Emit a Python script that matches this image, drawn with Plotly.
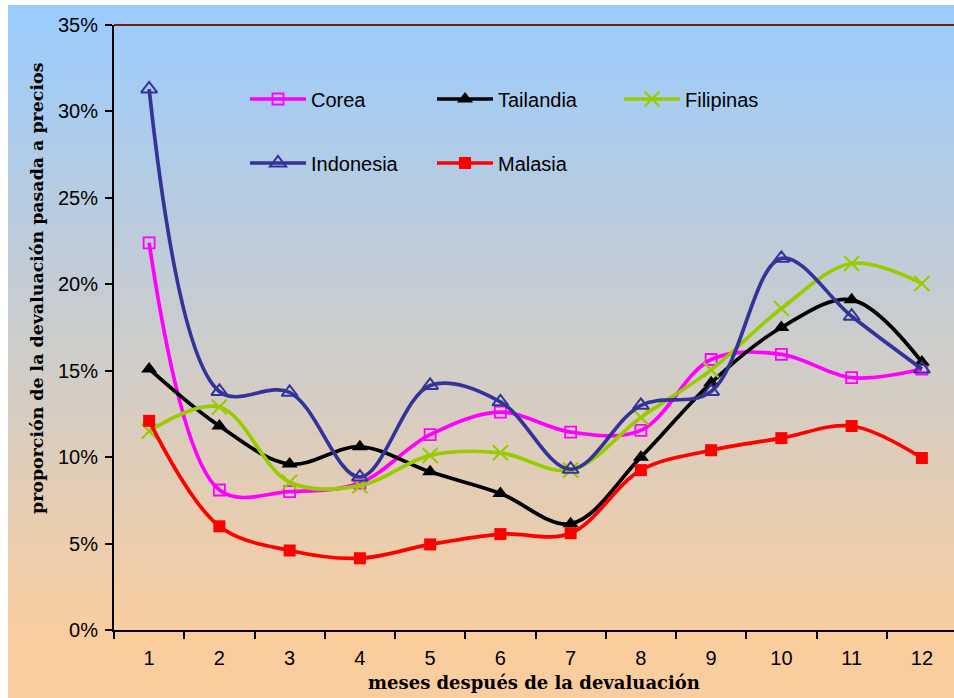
import plotly.graph_objects as go

# Months after the devaluation (category axis)
meses = [str(m) for m in range(1, 13)]

# Pass-through of the devaluation to prices, in percent
corea = [22.4, 8.1, 8.0, 8.5, 11.3, 12.6, 11.45, 11.55, 15.65, 15.95, 14.6, 15.1]
tailandia = [15.1, 11.8, 9.6, 10.6, 9.15, 7.9, 6.15, 10.0, 14.3, 17.5, 19.1, 15.5]
filipinas = [11.5, 12.9, 8.55, 8.35, 10.1, 10.25, 9.25, 12.3, 15.05, 18.6, 21.2, 20.05]
indonesia = [31.3, 13.8, 13.75, 8.85, 14.15, 13.2, 9.3, 13.0, 13.8, 21.5, 18.15, 15.1]
malasia = [12.1, 6.0, 4.6, 4.15, 4.95, 5.55, 5.6, 9.25, 10.4, 11.1, 11.8, 9.95]

y_ticks = [0, 5, 10, 15, 20, 25, 30, 35]
y_tick_text = [f"{v}%" for v in y_ticks]

W, H = 954, 698
M_L, M_R, M_T, M_B = 114, 0, 25, 68
plot_w = W - M_L - M_R
plot_h = H - M_T - M_B

fig = go.Figure()

series = [
    ("Corea", corea, "#FF00FF", dict(symbol="square-open", size=11, line=dict(width=1.8, color="#FF00FF")), "legend"),
    ("Tailandia", tailandia, "#000000", dict(symbol="triangle-up", size=14), "legend"),
    ("Filipinas", filipinas, "#99CC00", dict(symbol="x-thin-open", size=15, line=dict(width=2.2, color="#99CC00")), "legend"),
    ("Indonesia", indonesia, "#333399", dict(symbol="triangle-up-open", size=14, line=dict(width=2, color="#333399")), "legend2"),
    ("Malasia", malasia, "#FF0000", dict(symbol="square", size=12), "legend2"),
]

for name, vals, color, marker, leg in series:
    fig.add_trace(go.Scatter(
        x=meses, y=vals, name=name, mode="lines+markers",
        line=dict(color=color, width=3.7, shape="spline", smoothing=1.0),
        marker=dict(color=color, **marker),
        legend=leg,
    ))

# Vertical blue-to-peach background gradient built from thin bands
top_rgb = (153, 204, 255)
bot_rgb = (250, 205, 158)
n_bands = 120
y_top_px, y_end_px, y_bot_px = 5, 640, H
x_left_px = 8
shapes = []
for i in range(n_bands):
    py0 = y_top_px + (y_bot_px - y_top_px) * i / n_bands
    py1 = y_top_px + (y_bot_px - y_top_px) * (i + 1) / n_bands + 0.8
    t = min(1.0, ((py0 + py1) / 2 - y_top_px) / (y_end_px - y_top_px))
    r = round(top_rgb[0] + (bot_rgb[0] - top_rgb[0]) * t)
    g = round(top_rgb[1] + (bot_rgb[1] - top_rgb[1]) * t)
    b = round(top_rgb[2] + (bot_rgb[2] - top_rgb[2]) * t)
    shapes.append(dict(
        type="rect", xref="paper", yref="paper", layer="below",
        x0=(x_left_px - M_L) / plot_w, x1=1.01,
        y0=(H - M_B - py1) / plot_h, y1=(H - M_B - py0) / plot_h,
        fillcolor=f"rgb({r},{g},{b})", line=dict(width=0),
    ))

# Dark red frame line along the top of the plot area
shapes.append(dict(type="line", xref="paper", yref="paper", x0=0, x1=1, y0=1, y1=1,
                   line=dict(color="#7a1a1a", width=2), layer="above"))

tick_font = dict(family="Liberation Sans, Arial, sans-serif", size=20, color="#000000")
legend_font = dict(family="Liberation Sans, Arial, sans-serif", size=20, color="#000000")
ytitle_font = dict(family="DejaVu Serif, serif", size=17.4, color="#000000")
xtitle_font = dict(family="DejaVu Serif, serif", size=18, color="#000000")

ITEM_W = 56
COL_W = 187
entry_w = COL_W - (40 + ITEM_W - 30) - 5

fig.update_layout(
    width=W, height=H,
    margin=dict(l=M_L, r=M_R, t=M_T, b=M_B, pad=0),
    paper_bgcolor="#FFFFFF",
    plot_bgcolor="rgba(0,0,0,0)",
    shapes=shapes,
    font=tick_font,
    xaxis=dict(
        type="category", range=[-0.5, 11.457],
        showgrid=False, zeroline=False,
        showline=True, linecolor="#000000", linewidth=2,
        ticks="outside", tickson="boundaries", ticklen=7, tickwidth=2, tickcolor="#000000",
        tickfont=tick_font, ticklabelstandoff=9,
        title=dict(text="<b>meses después de la devaluación</b>", font=xtitle_font, standoff=8),
    ),
    yaxis=dict(
        range=[0, 35], tickvals=y_ticks, ticktext=y_tick_text,
        showgrid=False, zeroline=False,
        showline=True, linecolor="#000000", linewidth=2,
        ticks="outside", ticklen=7, tickwidth=2, tickcolor="#000000",
        tickfont=tick_font, ticklabelstandoff=3,
    ),
    legend=dict(
        orientation="h", x=(245 - M_L) / plot_w, y=(H - M_B - 99) / plot_h,
        xanchor="left", yanchor="middle",
        entrywidth=entry_w, entrywidthmode="pixels",
        bgcolor="rgba(0,0,0,0)", font=legend_font, itemwidth=ITEM_W,
    ),
    legend2=dict(
        orientation="h", x=(245 - M_L) / plot_w, y=(H - M_B - 163) / plot_h,
        xanchor="left", yanchor="middle",
        entrywidth=entry_w, entrywidthmode="pixels",
        bgcolor="rgba(0,0,0,0)", font=legend_font, itemwidth=ITEM_W,
    ),
    annotations=[dict(
        text="<b>proporción de la devaluación pasada a precios</b>",
        textangle=-90, xref="paper", yref="paper",
        x=(37 - M_L) / plot_w, y=(H - M_B - 288) / plot_h,
        xanchor="center", yanchor="middle", showarrow=False, font=ytitle_font,
    )],
)

fig.write_html("out.html")
